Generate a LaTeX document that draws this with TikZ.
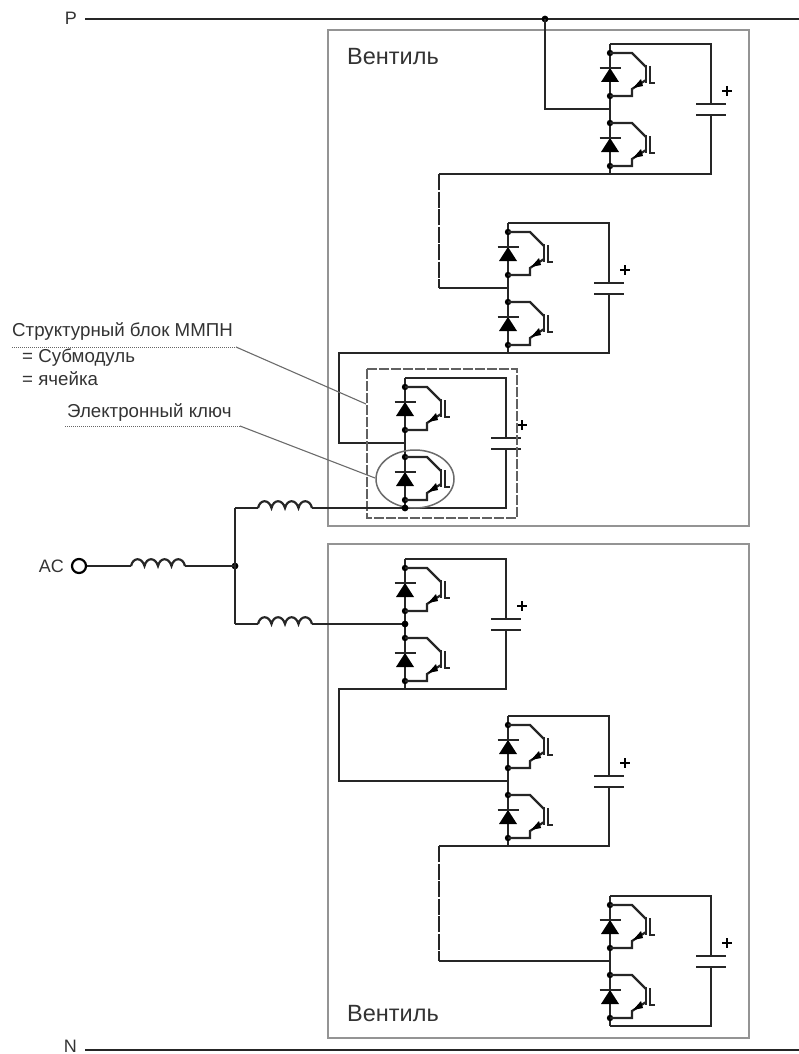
\documentclass[tikz,border=0pt]{standalone}
\usepackage{fontspec}
\setmainfont{Liberation Sans}
\tikzset{
	wire/.style={line width=2.2pt,color=black!85},
	valve/.style={line width=2.6pt,color=black!42},
	cell/.style={line width=2pt,dash pattern=on 10pt off 2pt,color=black!62},
	leader/.style={line width=1.1pt,color=black!58},
	underline/.style={line width=1pt,densely dotted,color=black!60},
	gaps/.style={wire,dash pattern=on 16pt off 1.5pt},
	label/.style={inner sep=0pt,anchor=west,font=\fontsize{18.7}{18.7}\selectfont,color=black!80},
	tag/.style={inner sep=0pt,anchor=east,font=\fontsize{18}{18}\selectfont,color=black!80},
	title/.style={inner sep=0pt,anchor=west,font=\fontsize{23.5}{23.5}\selectfont,color=black!80},
}
\begin{document}
\begin{tikzpicture}[x=1pt,y=-1pt]
		\useasboundingbox (0,0) rectangle (799,1054);
		% valves
		\draw[valve] (328,30) rectangle (749,526);
		\draw[valve] (328,544) rectangle (749,1038);
		\node[title] (valve-top) at (347,57) {Вентиль};
		\node[title] (valve-bottom) at (347,1014) {Вентиль};
		% submodules
		\foreach \nm/\sx/\sy in {a/610/44,b/508/223,c/405/378,d/405/559,e/508/716,f/610/896} {
			\begin{scope}[shift={(\sx,\sy)}]
				\coordinate (\nm-top) at (0,0);
				\coordinate (\nm-mid) at (0,65);
				\coordinate (\nm-bot) at (0,130);
				\coordinate (\nm-plus) at (101,60);
				\coordinate (\nm-minus) at (101,71);
				\draw[wire] (\nm-top) -- (\nm-bot);
				\draw[wire] (\nm-top) -- (101,0) -- (\nm-plus);
				\draw[wire] (\nm-bot) -- (101,130) -- (\nm-minus);
				\draw[wire] (86,60) -- (116,60);
				\draw[wire] (86,71) -- (116,71);
				\draw[line width=1.8pt] (112,47) -- (122,47);
				\draw[line width=1.8pt] (117,42) -- (117,52);
				\foreach \dy in {0,70} {
					\begin{scope}[yshift=-\dy pt]
						\fill (0,9) circle (3.2);
						\fill (0,52) circle (3.2);
						\fill (-9,38) -- (9,38) -- (0,24) -- cycle;
						\draw[wire] (-10.5,24) -- (10.5,24);
						\draw[wire] (0,9) -- (22,9) -- (36,23);
						\draw[wire] (36,36) -- (22,45) -- (22,52) -- (0,52);
						\draw[wire] (36,21) -- (36,39);
						\draw[wire] (40,22) -- (40,39) -- (45,39);
						\fill (23,44) -- (31,35) -- (33,42) -- cycle;
					\end{scope}
				}
			\end{scope}
		}
		% module links
		\coordinate (P-left) at (85,19);
		\coordinate (P-right) at (799,19);
		\coordinate (P-tap) at (545,19);
		\coordinate (N-left) at (85,1050);
		\coordinate (N-right) at (799,1050);
		\coordinate (a-bend) at (439,174);
		\coordinate (b-bend) at (439,288);
		\coordinate (e-bend) at (439,846);
		\coordinate (f-bend) at (439,961);
		\node[tag] (P) at (77,18) {P};
		\node[tag] (N) at (77,1046) {N};
		\draw[wire] (P-left) -- (P-right);
		\draw[wire] (N-left) -- (N-right);
		\fill (P-tap) circle (3.4);
		\draw[wire] (P-tap) |- (a-mid);
		\draw[wire] (a-bot) -- (a-bend);
		\draw[gaps] (a-bend) -- (b-bend);
		\draw[wire] (b-bend) -- (b-mid);
		\draw[wire] (b-bot) -| (339,443) -- (c-mid);
		\draw[wire] (d-bot) -| (339,781) -- (e-mid);
		\draw[wire] (e-bot) -- (e-bend);
		\draw[gaps] (e-bend) -- (f-bend);
		\draw[wire] (f-bend) -- (f-mid);
		% cell and switch marks
		\draw[cell] (367,369) rectangle (517,518);
		\draw[leader,line width=1.5pt] (415,479) ellipse (39 and 29);
		\node[label] (block) at (12,331) {Структурный блок ММПН};
		\node[label] (sub) at (22,358) {= Субмодуль};
		\node[label] (yach) at (22,379) {= ячейка};
		\node[label] (key) at (67,412) {Электронный ключ};
		\coordinate (block-end) at (236,347);
		\coordinate (key-end) at (240,426);
		\draw[underline] (12,347) -- (block-end);
		\draw[underline] (65,426) -- (key-end);
		\draw[leader] (block-end) -- (366,404);
		\draw[leader] (key-end) -- (375,478);
		% AC side
		\node[circle,draw,line width=2.2pt,minimum size=14pt,inner sep=0pt] (ac) at (79,566) {};
		\node[tag] (ac-label) at (64,566) {AC};
		\coordinate (fork) at (235,566);
		\coordinate (fork-top) at (235,508);
		\coordinate (fork-bot) at (235,624);
		\fill (fork) circle (3.4);
		\foreach \nm/\ix/\iy in {l/131/566,u/258/508,w/258/624} {
			\coordinate (\nm-in) at (\ix,\iy);
			\coordinate (\nm-out) at (\ix+54,\iy);
			\draw[wire] (\nm-in)
				.. controls (\ix+2,\iy-9) and (\ix+11,\iy-9) .. (\ix+13.5,\iy)
				.. controls (\ix+15.5,\iy-9) and (\ix+24.5,\iy-9) .. (\ix+27,\iy)
				.. controls (\ix+29,\iy-9) and (\ix+38,\iy-9) .. (\ix+40.5,\iy)
				.. controls (\ix+42.5,\iy-9) and (\ix+52,\iy-9) .. (\nm-out);
		}
		\draw[wire] (ac) -- (l-in);
		\draw[wire] (l-out) -- (fork);
		\draw[wire] (fork-top) -- (fork-bot);
		\draw[wire] (fork-top) -- (u-in);
		\draw[wire] (fork-bot) -- (w-in);
		\draw[wire] (u-out) -- (c-bot);
		\draw[wire] (w-out) -- (d-mid);
		\fill (c-bot) circle (3.4);
		\fill (d-mid) circle (3.4);
	\end{tikzpicture}
\end{document}
